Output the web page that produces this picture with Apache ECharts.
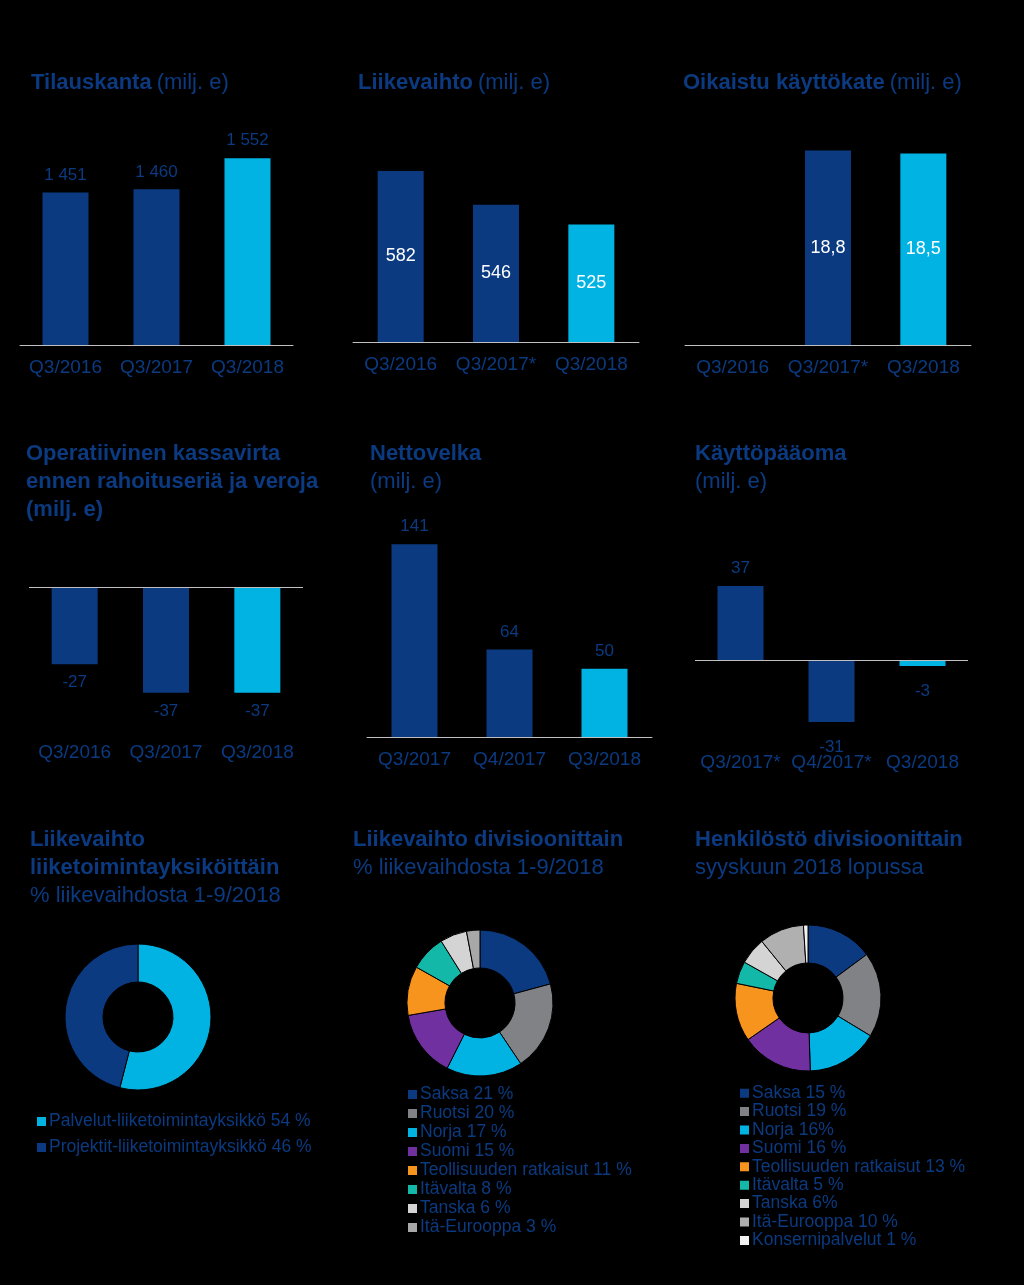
<!DOCTYPE html>
<html>
<head>
<meta charset="utf-8">
<script src="https://cdn.jsdelivr.net/npm/echarts@6/dist/echarts.min.js"></script>
<style>
html,body{margin:0;padding:0;background:#000;}
#c{width:1024px;height:1285px;}
</style>
</head>
<body>
<div id="c"></div>
<script>
// ---------- DATA ----------
const orderCats = ['Q3/2016', 'Q3/2017', 'Q3/2018'];
const orderVals = [1451, 1460, 1552];

const salesCats = ['Q3/2016', 'Q3/2017*', 'Q3/2018'];
const salesVals = [582, 546, 525];

const ebitdaCats = ['Q3/2016', 'Q3/2017*', 'Q3/2018'];
const ebitdaVals = [null, 18.8, 18.5];

const cashCats = ['Q3/2016', 'Q3/2017', 'Q3/2018'];
const cashVals = [-27, -37, -37];

const debtCats = ['Q3/2017', 'Q4/2017', 'Q3/2018'];
const debtVals = [141, 64, 50];

const wcCats = ['Q3/2017*', 'Q4/2017*', 'Q3/2018'];
const wcVals = [37, -31, -3];

const unitNames = ['Palvelut-liiketoimintayksikkö 54 %', 'Projektit-liiketoimintayksikkö 46 %'];
const unitVals = [54, 46];

const divNames = ['Saksa 21 %', 'Ruotsi 20 %', 'Norja 17 %', 'Suomi 15 %', 'Teollisuuden ratkaisut 11 %', 'Itävalta 8 %', 'Tanska 6 %', 'Itä-Eurooppa 3 %'];
const divVals = [21, 20, 17, 15, 11, 8, 6, 3];

const staffNames = ['Saksa 15 %', 'Ruotsi 19 %', 'Norja 16%', 'Suomi 16 %', 'Teollisuuden ratkaisut 13 %', 'Itävalta 5 %', 'Tanska 6%', 'Itä-Eurooppa 10 %', 'Konsernipalvelut 1 %'];
const staffVals = [15, 19, 16, 16, 13, 5, 6, 10, 1];

// ---------- STYLE ----------
const FONT = '"Liberation Sans", Arial, sans-serif';
const NAVY = '#0b3a80';
const LIGHT = '#00b3e3';
const AXIS = '#c0c0c0';
const divColors = [NAVY, '#808285', LIGHT, '#7030a0', '#f7941d', '#14b8a8', '#d4d4d4', '#a8a8a8'];
const staffColors = [NAVY, '#808285', LIGHT, '#7030a0', '#f7941d', '#14b8a8', '#d4d4d4', '#b0b0b0', '#f2f2f2'];

const panels = [
  {cats: orderCats, vals: orderVals, grid: {left: 20, top: 142, width: 273, height: 203}, min: 1000, max: 1600, label: 'above', labelColor: NAVY, fmt: v => String(v).replace(/\B(?=(\d{3})+(?!\d))/g, ' '), zero: false, negDist: 8},
  {cats: salesCats, vals: salesVals, grid: {left: 353, top: 154, width: 286, height: 188}, min: 400, max: 600, label: 'inside', labelColor: '#fff', fmt: v => String(v), zero: false, negDist: 8},
  {cats: ebitdaCats, vals: ebitdaVals, grid: {left: 685, top: 138, width: 286, height: 207}, min: 0, max: 20, label: 'inside', labelColor: '#fff', fmt: v => String(v).replace('.', ','), zero: false, negDist: 8},
  {cats: cashCats, vals: cashVals, grid: {left: 29, top: 587, width: 274, height: 143}, min: -50, max: 0, label: 'outside', labelColor: NAVY, fmt: v => String(v), zero: true, negDist: 10},
  {cats: debtCats, vals: debtVals, grid: {left: 367, top: 532, width: 285, height: 205}, min: 0, max: 150, label: 'outside', labelColor: NAVY, fmt: v => String(v), zero: false, negDist: 8},
  {cats: wcCats, vals: wcVals, grid: {left: 695, top: 580, width: 273, height: 160}, min: -40, max: 40, label: 'outside', labelColor: NAVY, fmt: v => String(v), zero: true, negDist: 17}
];

const grids = [], xAxes = [], yAxes = [], series = [];
panels.forEach((p, i) => {
  grids.push(Object.assign({containLabel: false}, p.grid));
  xAxes.push({
    type: 'category', gridIndex: i, data: p.cats,
    axisLine: {show: !p.zero, onZero: false, lineStyle: {color: AXIS, width: 1}},
    axisTick: {show: false},
    axisLabel: {color: NAVY, fontSize: 19, fontFamily: FONT, margin: 13, interval: 0}
  });
  yAxes.push({type: 'value', gridIndex: i, min: p.min, max: p.max, show: false, splitLine: {show: false}});
  const data = p.vals.map((v, k) => {
    const item = {value: v, itemStyle: {color: k === p.vals.length - 1 ? LIGHT : NAVY}};
    if (p.label === 'outside' || p.label === 'above') {
      item.label = {position: v < 0 ? 'bottom' : 'top', distance: v < 0 ? p.negDist : 9};
    }
    return item;
  });
  const s = {
    type: 'bar', xAxisIndex: i, yAxisIndex: i, data: data, barWidth: 46,
    silent: true, animation: false,
    label: {
      show: true, position: p.label === 'inside' ? 'inside' : 'top',
      color: p.labelColor, fontSize: p.label === 'inside' ? 18 : 17, fontFamily: FONT,
      formatter: prm => prm.value == null ? '' : p.fmt(prm.value)
    }
  };
  if (p.zero) {
    s.markLine = {silent: true, symbol: 'none', label: {show: false},
      lineStyle: {color: AXIS, width: 1, type: 'solid'}, data: [{yAxis: 0}]};
  }
  series.push(s);
});

function pie(names, vals, colors, center) {
  return {
    type: 'pie', center: center, radius: [35, 73], startAngle: 90, clockwise: true,
    silent: true, animation: false, label: {show: false}, labelLine: {show: false},
    itemStyle: {borderColor: '#000', borderWidth: 1},
    data: names.map((n, k) => ({name: n, value: vals[k], itemStyle: {color: colors[k]}}))
  };
}
series.push(pie(unitNames, unitVals, [LIGHT, NAVY], [138, 1017]));
series.push(pie(divNames, divVals, divColors, [480, 1003]));
series.push(pie(staffNames, staffVals, staffColors, [808, 998]));

function legend(names, left, top, lh, gap) {
  return {
    data: names, orient: 'vertical', left: left, top: top, padding: 0,
    icon: 'rect', itemWidth: 11, itemHeight: 11, itemGap: gap, selectedMode: false,
    textStyle: {color: NAVY, fontSize: 17.5, fontFamily: FONT, lineHeight: lh, padding: [0, 0, 0, -3]}
  };
}

const rich = {
  b: {fontSize: 22, fontWeight: 'bold', color: NAVY, fontFamily: FONT, lineHeight: 28},
  n: {fontSize: 22, fontWeight: 'normal', color: NAVY, fontFamily: FONT, lineHeight: 28}
};
function title(text, left, top) {
  return {text: text, left: left, top: top, padding: 0, textStyle: {fontWeight: 'normal', rich: rich}};
}

const option = {
  backgroundColor: '#000',
  animation: false,
  title: [
    title('{b|Tilauskanta} {n|(milj. e)}', 31, 69),
    title('{b|Liikevaihto} {n|(milj. e)}', 358, 69),
    title('{b|Oikaistu käyttökate} {n|(milj. e)}', 683, 69),
    title('{b|Operatiivinen kassavirta}\n{b|ennen rahoituseriä ja veroja}\n{b|(milj. e)}', 26, 440),
    title('{b|Nettovelka}\n{n|(milj. e)}', 370, 440),
    title('{b|Käyttöpääoma}\n{n|(milj. e)}', 695, 440),
    title('{b|Liikevaihto}\n{b|liiketoimintayksiköittäin}\n{n|% liikevaihdosta 1-9/2018}', 30, 826),
    title('{b|Liikevaihto divisioonittain}\n{n|% liikevaihdosta 1-9/2018}', 353, 826),
    title('{b|Henkilöstö divisioonittain}\n{n|syyskuun 2018 lopussa}', 695, 826)
  ],
  legend: [
    legend(unitNames, 35, 1112, 19, 7),
    legend(divNames, 406, 1085, 19, 0),
    legend(staffNames, 738, 1084, 18.4, 0)
  ],
  grid: grids, xAxis: xAxes, yAxis: yAxes, series: series
};

const chart = echarts.init(document.getElementById('c'), null, {renderer: 'canvas'});
chart.setOption(option);
</script>
</body>
</html>
